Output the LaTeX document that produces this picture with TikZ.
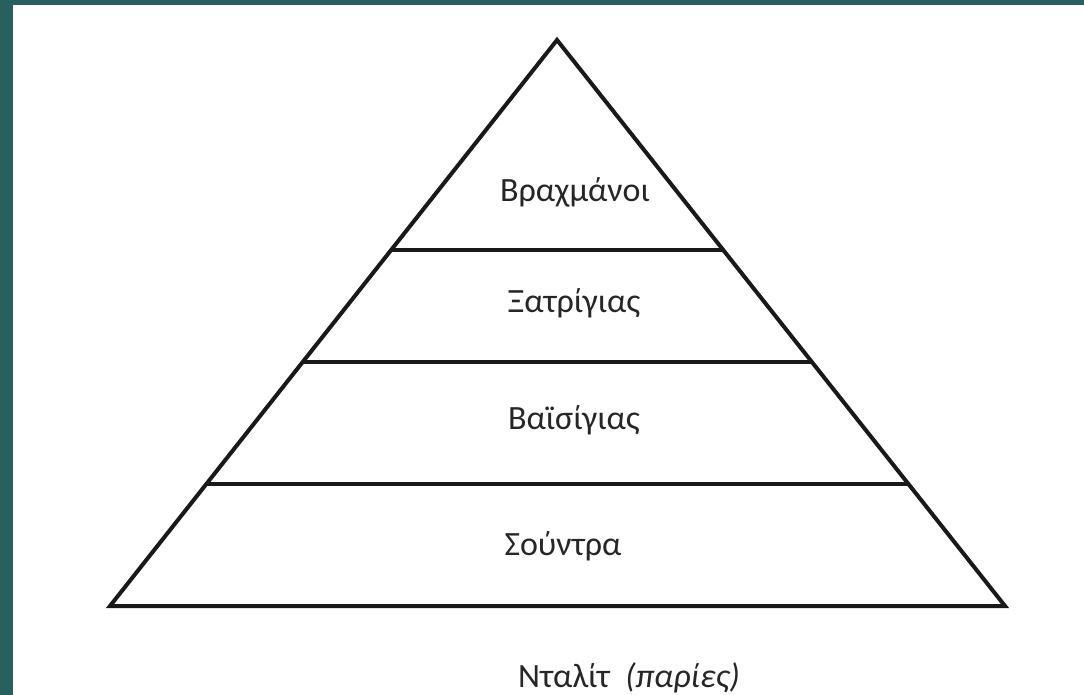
\documentclass[tikz,border=0pt]{standalone}
\usepackage{fontspec}
\setmainfont{Carlito}
\usetikzlibrary{calc, positioning}
\definecolor{slidebg}{RGB}{40,96,96}
\begin{document}
\begin{tikzpicture}[x=1pt, y=-1pt,
        layer/.style={font=\fontsize{34}{40}\selectfont, text=black!85},
        edge/.style={line width=4pt, black!90}]
        % --- BACKGROUND: slide frame ---
        \fill[slidebg] (0,0) rectangle (1084,695);
        \fill[white] (13,5) rectangle (1084,695);
        \useasboundingbox (0,0) rectangle (1084,695);

        % --- THE PYRAMID ---
        \coordinate (apex) at (557,40);
        \coordinate (bl) at (110,606);
        \coordinate (br) at (1005,606);
        \draw[edge, line join=miter] (apex) -- (bl) -- (br) -- cycle;

        % Dividing lines between the castes
        \foreach \f/\n in {0.371/a, 0.569/b, 0.784/c} {
            \draw[edge] ($(apex)!\f!(bl)$) coordinate (l\n) -- ($(apex)!\f!(br)$) coordinate (r\n);
        }

        % Labels of the layers
        \node[layer] (brahmin) at (575,192) {Βραχμάνοι};
        \node[layer] (kshatriya) at (574,303) {Ξατρίγιας};
        \node[layer] (vaishya) at (574,420) {Βαϊσίγιας};
        \node[layer] (shudra) at (563,546) {Σούντρα};

        % Outside the pyramid
        \node[layer] (dalit) at (629,678) {Νταλίτ \ \textit{(παρίες)}};
    \end{tikzpicture}
\end{document}
